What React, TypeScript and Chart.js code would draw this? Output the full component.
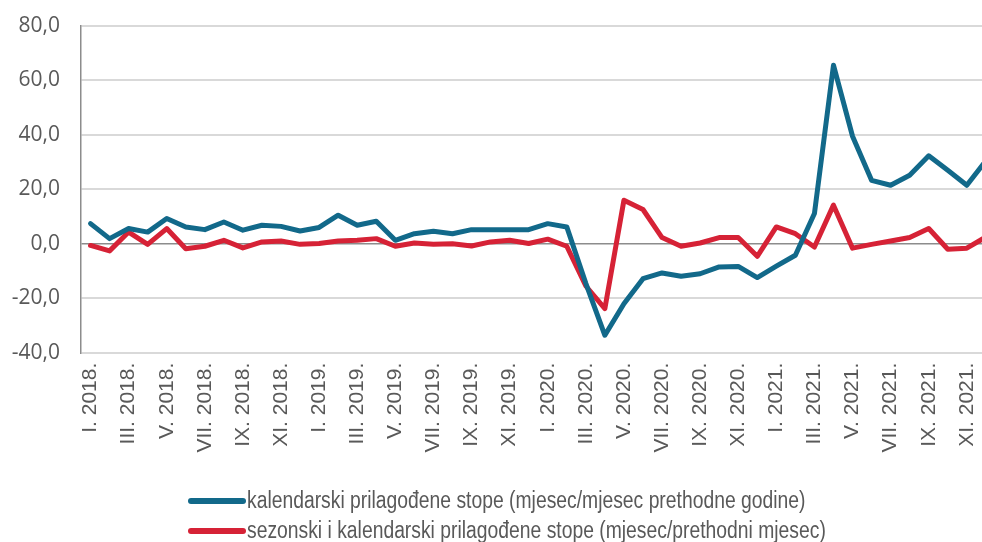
import React, { useEffect, useRef } from "react";
import { Chart, registerables } from "chart.js";

Chart.register(...registerables);

const years = [2018, 2019, 2020, 2021];
const romanMonths = ["I", "II", "III", "IV", "V", "VI", "VII", "VIII", "IX", "X", "XI", "XII"];
const categories = years.flatMap((y) => romanMonths.map((m) => `${m}. ${y}.`));

const seriesNames = [
  "kalendarski prilagođene stope (mjesec/mjesec prethodne godine)",
  "sezonski i kalendarski prilagođene stope (mjesec/prethodni mjesec)",
];

// kalendarski prilagođene stope (y/y)
const calendarAdjusted = [
  7.4, 1.9, 5.6, 4.3, 9.3, 6.2, 5.2, 8.0, 5.0, 6.8, 6.4, 4.7,
  6.0, 10.5, 6.8, 8.3, 1.3, 3.7, 4.6, 3.7, 5.2, 5.2, 5.2, 5.2,
  7.4, 6.2, -14.5, -33.6, -22.0, -12.8, -10.7, -11.9, -11.0, -8.5, -8.3, -12.4,
  -8.2, -4.2, 11.1, 65.6, 39.5, 23.3, 21.5, 25.2, 32.3, 27.0, 21.5, 30.5,
];

// sezonski i kalendarski prilagođene stope (m/m)
const seasonallyAdjusted = [
  -0.6, -2.6, 4.3, -0.2, 5.6, -1.8, -0.9, 1.3, -1.5, 0.7, 1.0, -0.2,
  0.1, 1.0, 1.3, 1.9, -0.9, 0.3, -0.2, 0.0, -0.8, 0.7, 1.3, 0.1,
  1.7, -0.9, -15.5, -23.8, 16.0, 12.6, 2.3, -0.9, 0.3, 2.3, 2.3, -4.6,
  6.2, 3.7, -1.2, 14.2, -1.6, -0.2, 1.0, 2.3, 5.6, -2.0, -1.6, 2.5,
];

const seriesColors = ["#12698a", "#d62236"];
const yMin = -40;
const yMax = 80;
const yStep = 20;

const TEXT = "#595959";

const legendPlugin = {
  id: "customLegend",
  afterDraw(chart: any) {
    const ctx = chart.ctx;
    chart.data.datasets.forEach((ds: any, i: number) => {
      const y = 501 + i * 30;
      ctx.save();
      ctx.strokeStyle = ds.borderColor;
      ctx.lineWidth = 6;
      ctx.lineCap = "round";
      ctx.beginPath();
      ctx.moveTo(191, y);
      ctx.lineTo(243, y);
      ctx.stroke();
      ctx.fillStyle = TEXT;
      ctx.font = '23px "Liberation Sans", Arial, sans-serif';
      ctx.textBaseline = "middle";
      ctx.textAlign = "left";
      ctx.translate(247, y + 1);
      ctx.scale(0.84, 1);
      ctx.fillText(ds.label, 0, 0);
      ctx.restore();
    });
  },
};

export default function App() {
  const ref = useRef<HTMLCanvasElement | null>(null);

  useEffect(() => {
    if (!ref.current) return;
    const chart = new Chart(ref.current, {
      type: "line",
      data: {
        labels: categories,
        datasets: [
          {
            label: seriesNames[0],
            data: calendarAdjusted,
            borderColor: seriesColors[0],
            backgroundColor: seriesColors[0],
            borderWidth: 5,
            pointRadius: 0,
            tension: 0,
            borderJoinStyle: "round",
            borderCapStyle: "round",
          },
          {
            label: seriesNames[1],
            data: seasonallyAdjusted,
            borderColor: seriesColors[1],
            backgroundColor: seriesColors[1],
            borderWidth: 5,
            pointRadius: 0,
            tension: 0,
            borderJoinStyle: "round",
            borderCapStyle: "round",
          },
        ],
      },
      options: {
        responsive: false,
        animation: false,
        layout: { padding: { left: 0, right: 4.6, top: 26, bottom: 79.3 } },
        plugins: {
          legend: { display: false },
          tooltip: { enabled: false },
        },
        scales: {
          x: {
            type: "category",
            offset: true,
            grid: { display: false, drawTicks: false },
            border: { display: false },
            afterFit: (scale: any) => {
              scale.height = 110;
              scale.paddingLeft = 0;
              scale.paddingRight = 0;
              scale.paddingTop = 0;
              scale.paddingBottom = 0;
            },
            ticks: {
              autoSkip: false,
              minRotation: 90,
              maxRotation: 90,
              padding: 10,
              color: TEXT,
              font: { family: '"Liberation Sans", Arial, sans-serif', size: 21 },
              callback: (_v: any, i: number) => (i % 2 === 0 ? categories[i] : ""),
            },
          },
          y: {
            min: yMin,
            max: yMax,
            afterFit: (scale: any) => {
              scale.width = 81;
              scale.paddingTop = 0;
              scale.paddingBottom = 0;
              scale.paddingLeft = 0;
              scale.paddingRight = 0;
            },
            grid: {
              drawTicks: false,
              color: (c: any) => (c.tick && c.tick.value === 0 ? "#8c8c8c" : "#d9d9d9"),
              lineWidth: (c: any) => (c.tick && c.tick.value === 0 ? 1.5 : 2),
            },
            border: { display: true, color: "#8c8c8c", width: 1.5 },
            ticks: {
              stepSize: yStep,
              padding: 21,
              color: TEXT,
              font: { family: '"Open Sans", sans-serif', size: 21 },
              callback: (v: any) => Number(v).toFixed(1).replace(".", ","),
            },
          },
        },
      },
      plugins: [legendPlugin],
    });
    return () => chart.destroy();
  }, []);

  return (
    <div style={{ position: "fixed", left: 0, top: 0, width: 982, height: 542, overflow: "hidden", background: "#fff" }}>
      <canvas ref={ref} width={1000} height={542} style={{ width: 1000, height: 542, display: "block" }} />
    </div>
  );
}
